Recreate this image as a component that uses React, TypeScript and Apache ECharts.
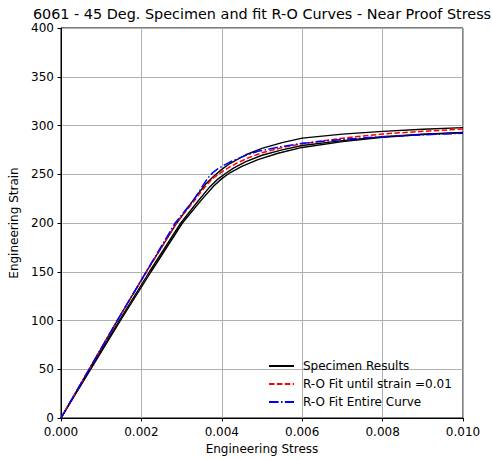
import React, { useEffect, useRef } from "react";
import * as echarts from "echarts";

const TITLE = "6061 - 45 Deg. Specimen and fit R-O Curves - Near Proof Stress";
const X_NAME = "Engineering Stress";
const Y_NAME = "Engineering Strain";
const LEGEND_NAMES = ["Specimen Results", "R-O Fit until strain =0.01", "R-O Fit Entire Curve"];

// Specimen results (strain, stress)
const specimenA: [number, number][] = [
  [0, 0], [0.0007, 50], [0.0014, 100], [0.00212, 150], [0.00288, 200], [0.0033, 224], [0.0036, 240],
  [0.0038, 248], [0.004, 255], [0.0042, 261], [0.0046, 270], [0.005, 276.5], [0.0055, 282.5], [0.006, 287],
  [0.007, 291.2], [0.008, 294], [0.009, 296.2], [0.01, 297.8],
];
const specimenB: [number, number][] = [
  [0, 0], [0.00072, 50], [0.00145, 100], [0.0022, 150], [0.00298, 200], [0.0034, 222], [0.0037, 237],
  [0.0039, 245], [0.0041, 251], [0.0043, 256.5], [0.0046, 263], [0.005, 269.5], [0.0055, 275], [0.006, 279.5],
  [0.007, 284.5], [0.008, 288.5], [0.009, 291.2], [0.01, 293],
];
const specimenC: [number, number][] = [
  [0, 0], [0.00074, 50], [0.00148, 100], [0.00224, 150], [0.00302, 200], [0.0035, 224], [0.0038, 238],
  [0.004, 245.5], [0.0042, 251.5], [0.0045, 258], [0.0049, 265], [0.0054, 271.5], [0.006, 277.5], [0.007, 283.5],
  [0.008, 287.8], [0.009, 290.8], [0.01, 292.5],
];
// R-O fit until strain = 0.01
const fitUntil: [number, number][] = [
  [0, 0], [0.0007, 50], [0.0014, 100], [0.00213, 150], [0.00287, 200], [0.0033, 222], [0.0035, 233],
  [0.0037, 242.5], [0.0038, 246.5], [0.0039, 249.5], [0.004, 252.5], [0.0042, 257.5], [0.0044, 262],
  [0.0047, 267.5], [0.005, 272], [0.0055, 277.3], [0.006, 281.3], [0.007, 287], [0.008, 291.3],
  [0.009, 294], [0.01, 296.4],
];
// R-O fit entire curve
const fitEntire: [number, number][] = [
  [0, 0], [0.0007, 50], [0.0014, 100], [0.00212, 150], [0.00284, 200], [0.00329, 223], [0.0035, 236.5],
  [0.0036, 243], [0.0037, 248.5], [0.0038, 252.5], [0.0039, 255.5], [0.004, 258], [0.0042, 262.5],
  [0.0044, 266], [0.0046, 269.5], [0.0049, 273.5], [0.0055, 278.5], [0.006, 281.7], [0.007, 285.8],
  [0.008, 288.5], [0.009, 290.5], [0.01, 292],
];

const FONT = "DejaVu Sans";

export default function App() {
  const ref = useRef<HTMLDivElement>(null);
  useEffect(() => {
    if (!ref.current) return;
    const chart = echarts.init(ref.current, undefined, { renderer: "svg" });
    const blackSeries = [specimenA, specimenB, specimenC].map((d) => ({
      name: LEGEND_NAMES[0],
      type: "line",
      data: d,
      showSymbol: false,
      symbol: "none",
      lineStyle: { color: "#000", width: 1.4 },
      itemStyle: { color: "#000" },
      z: 2,
    }));
    chart.setOption({
      animation: false,
      textStyle: { fontFamily: FONT },
      graphic: [
        {
          type: "text",
          x: 262,
          y: 14,
          style: {
            text: TITLE,
            fontFamily: FONT,
            fontSize: 14.4,
            lineHeight: 14,
            fill: "#000",
            align: "center",
            verticalAlign: "middle",
          },
        },
      ],
      legend: {
        orient: "vertical",
        left: 268,
        top: 360,
        padding: 0,
        itemWidth: 25,
        itemHeight: 12,
        itemGap: 6,
        data: LEGEND_NAMES,
        itemStyle: { opacity: 0 },
        textStyle: { fontFamily: FONT, fontSize: 12, lineHeight: 12, color: "#000", padding: [0, 0, 0, 4] },
      },
      grid: {
        left: 61,
        right: 29,
        top: 28,
        bottom: 42,
        show: true,
        borderColor: "#000",
        borderWidth: 1,
        backgroundColor: "transparent",
      },
      xAxis: {
        type: "value",
        min: 0,
        max: 0.01,
        interval: 0.002,
        name: X_NAME,
        nameLocation: "middle",
        nameGap: 23,
        nameTextStyle: { fontFamily: FONT, fontSize: 12, color: "#000" },
        axisLine: { show: true, lineStyle: { color: "#000", width: 1 } },
        axisTick: { show: true, length: 3.5, lineStyle: { color: "#000" } },
        axisLabel: {
          fontFamily: FONT,
          fontSize: 12,
          lineHeight: 12,
          color: "#000",
          margin: 8,
          formatter: (v: number) => v.toFixed(3),
        },
        splitLine: { show: true, lineStyle: { color: "#b0b0b0", width: 1 } },
      },
      yAxis: {
        type: "value",
        min: 0,
        max: 400,
        interval: 50,
        name: Y_NAME,
        nameLocation: "middle",
        nameGap: 33,
        nameTextStyle: { fontFamily: FONT, fontSize: 12, color: "#000" },
        axisLine: { show: true, lineStyle: { color: "#000", width: 1 } },
        axisTick: { show: true, length: 3.5, lineStyle: { color: "#000" } },
        axisLabel: { fontFamily: FONT, fontSize: 12, lineHeight: 12, color: "#000", margin: 7 },
        splitLine: { show: true, lineStyle: { color: "#b0b0b0", width: 1 } },
      },
      series: [
        ...blackSeries,
        {
          name: LEGEND_NAMES[1],
          type: "line",
          data: fitUntil,
          showSymbol: false,
          symbol: "none",
          lineStyle: { color: "#ff0000", width: 1.5, type: [5.5, 2.4] },
          itemStyle: { color: "#ff0000" },
          z: 3,
        },
        {
          name: LEGEND_NAMES[2],
          type: "line",
          data: fitEntire,
          showSymbol: false,
          symbol: "none",
          lineStyle: { color: "#0000ff", width: 1.5, type: [9.6, 2.4, 1.5, 2.4] },
          itemStyle: { color: "#0000ff" },
          z: 4,
        },
      ],
    });
    return () => chart.dispose();
  }, []);
  return (
    <div
      ref={ref}
      style={{ position: "absolute", left: 0, top: 0, width: 492, height: 460 }}
    />
  );
}
